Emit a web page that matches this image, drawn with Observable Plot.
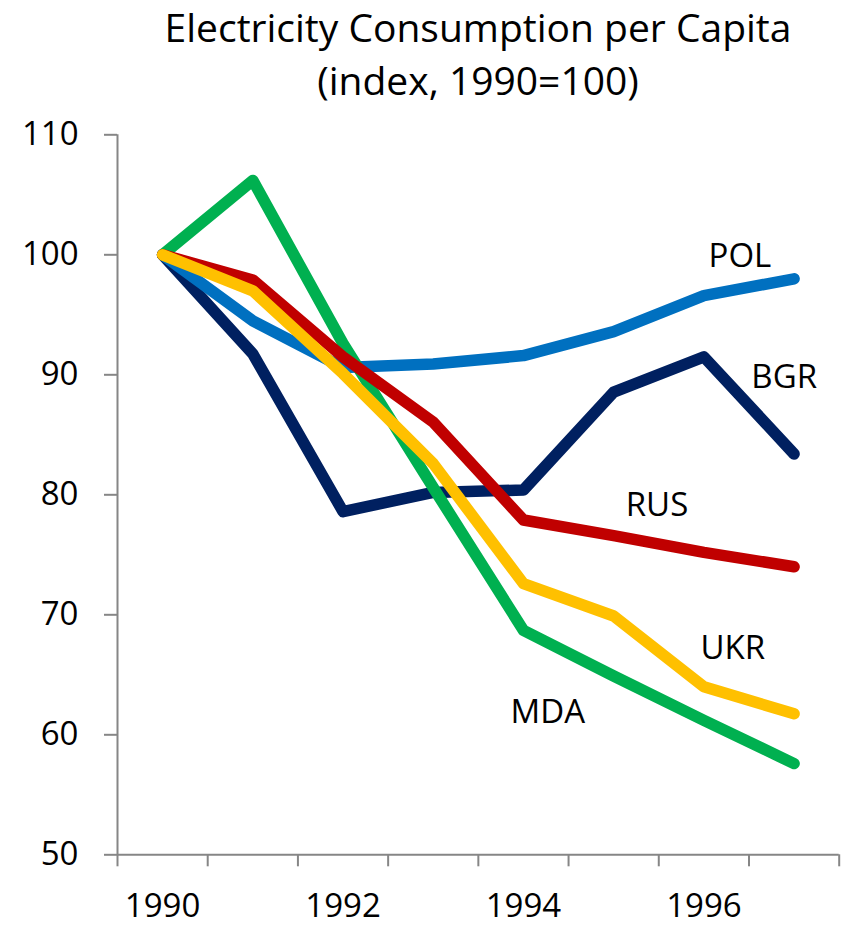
<!DOCTYPE html>
<html>
<head>
<meta charset="utf-8">
<script src="https://cdn.jsdelivr.net/npm/d3@7"></script>
<script src="https://cdn.jsdelivr.net/npm/@observablehq/plot@0.6"></script>
<style>
  body { margin: 0; background: #fff; font-family: "Open Sans", sans-serif; }
  #wrap { position: relative; width: 842px; height: 926px; }
  .title { position: absolute; left: 117px; width: 722px; text-align: center;
           font-size: 39px; line-height: 53px; color: #000; white-space: nowrap; }
  #t1 { top: 0; }
  #t2 { top: 53px; }
  #chart { position: absolute; top: 0; left: 0; }
</style>
</head>
<body>
<div id="wrap">
  <div id="chart"></div>
  <div class="title" id="t1">Electricity Consumption per Capita</div>
  <div class="title" id="t2">(index, 1990=100)</div>
</div>
<script>
const years = [1990, 1991, 1992, 1993, 1994, 1995, 1996, 1997];
const POL = [100, 94.5, 90.6, 90.9, 91.6, 93.6, 96.6, 98.0];
const BGR = [100, 91.75, 78.6, 80.2, 80.4, 88.55, 91.5, 83.4];
const RUS = [100, 97.9, 91.5, 86.05, 77.9, 76.6, 75.2, 74.0];
const UKR = [100, 97.0, 90.1, 82.6, 72.6, 69.9, 64.0, 61.75];
const MDA = [100, 106.2, 92.6, 80.6, 68.7, 64.9, 61.2, 57.6];
const seriesNames = ["BGR", "POL", "MDA", "RUS", "UKR"];
const seriesValues = {BGR, POL, MDA, RUS, UKR};
const seriesColors = ["#002060", "#0070C0", "#00B050", "#C00000", "#FFC000"];
const yTicks = [50, 60, 70, 80, 90, 100, 110];
const xTickLabels = [1990, 1992, 1994, 1996];
const labelNames = ["POL", "BGR", "RUS", "UKR", "MDA"];
const labelX = [1996.40, 1996.89, 1995.48, 1996.32, 1994.27];
const labelY = [99.86, 89.78, 79.1, 67.2, 61.86];

const rows = seriesNames.flatMap(name =>
  years.map((year, i) => ({name, year, value: seriesValues[name][i]})));
const labels = labelNames.map((name, i) => ({name, x: labelX[i], y: labelY[i]}));
const bandEdges = d3.range(years[0] - 0.5, years[years.length - 1] + 1, 1);

const axisColor = "#868686";
const plot = Plot.plot({
  width: 842,
  height: 926,
  marginLeft: 117,
  marginRight: 3.3,
  marginTop: 134.3,
  marginBottom: 71.7,
  style: {fontFamily: "Open Sans, sans-serif", fontSize: "33px", color: "#000", background: "#fff"},
  x: {domain: [years[0] - 0.5, years[years.length - 1] + 0.5]},
  y: {domain: [50, 110]},
  color: {domain: seriesNames, range: seriesColors},
  marks: [
    Plot.axisY({ticks: yTicks, tickSize: 13, tickPadding: 26, stroke: axisColor, strokeWidth: 2,
                fill: "#000", label: null, fontSize: 33}),
    Plot.axisX({ticks: bandEdges, tickSize: 12, tickFormat: () => "", stroke: axisColor, strokeWidth: 2, label: null}),
    Plot.axisX({ticks: xTickLabels, tickSize: 0, tickPadding: 39, tickFormat: d => String(d),
                fill: "#000", label: null, fontSize: 33}),
    Plot.ruleX([years[0] - 0.5], {stroke: axisColor, strokeWidth: 2}),
    Plot.ruleY([50], {stroke: axisColor, strokeWidth: 2}),
    Plot.line(rows, {x: "year", y: "value", z: "name", stroke: "name", strokeWidth: 11.5,
                     strokeLinecap: "round", strokeLinejoin: "round"}),
    Plot.text(labels, {x: "x", y: "y", text: "name", fontSize: 33, fill: "#000", textAnchor: "middle"})
  ]
});
document.getElementById("chart").appendChild(plot);
</script>
</body>
</html>
